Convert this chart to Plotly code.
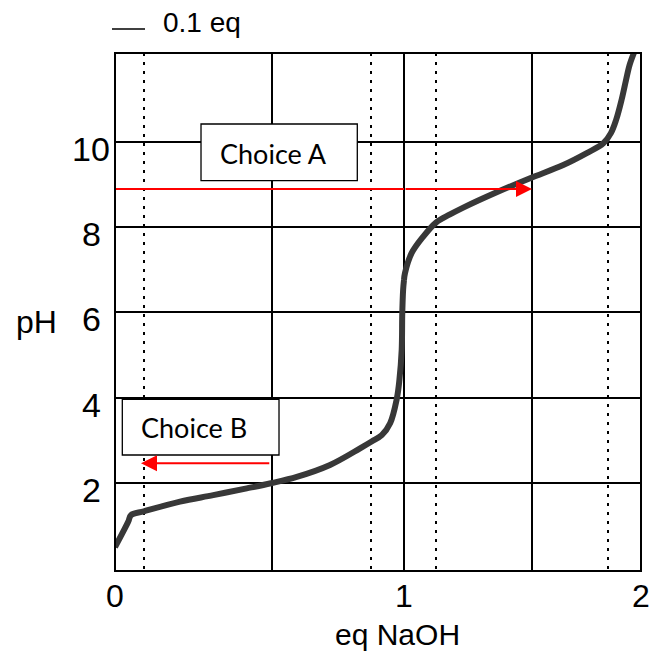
import plotly.graph_objects as go

# ---- data ----
eq_naoh = [0.0, 0.046, 0.055, 0.100, 0.225, 0.340, 0.456, 0.539, 0.629, 0.744,
           0.848, 0.888, 0.923, 0.952, 0.975, 0.984, 0.992, 0.994, 0.997, 1.0,
           1.004, 1.032, 1.081, 1.135, 1.194, 1.250, 1.391, 1.532, 1.672,
           1.771, 1.841, 1.873, 1.895, 1.918, 1.937, 1.952, 1.970]
ph = [0.49, 1.09, 1.24, 1.33, 1.56, 1.71, 1.87, 1.99, 2.14, 2.42,
      2.81, 2.97, 3.12, 3.40, 3.97, 4.41, 5.12, 5.98, 6.53, 6.76,
      6.92, 7.39, 7.78, 8.11, 8.30, 8.46, 8.82, 9.15, 9.46,
      9.74, 9.97, 10.21, 10.52, 10.99, 11.46, 11.81, 12.09]

x_solid_grid = [0.543, 1.0, 1.54]
x_dotted_grid = [0.101, 0.886, 1.135, 1.862]
y_grid = [2, 4, 6, 8, 10]

x_tick_vals = [0, 1, 2]
x_tick_text = ["0", "1", "2"]
y_tick_vals = [2, 4, 6, 8, 10]
y_tick_text = ["2", "4", "6", "8", "10"]

choice_labels = ["Choice A", "Choice B"]
arrow_a_eq = [0.0, 1.54]
arrow_a_ph = 8.90
arrow_b_eq = [0.539, 0.090]
arrow_b_ph = 2.46

scale_label = "0.1 eq"
x_title = "eq NaOH"
y_title = "pH"

# ---- figure ----
W, H = 665, 655
ML, MR, MT, MB = 115, 24, 53, 84
PW = W - ML - MR
PH_ = H - MT - MB
PX_EQ1 = 289  # the schematic x axis is drawn piecewise: eq 0..1 and eq 1..2 have different widths

X1_RANGE = [0, PW / PX_EQ1]                       # scale used for eq <= 1
X2_RANGE = [1 - PX_EQ1 / (PW - PX_EQ1), 2]        # scale used for eq >= 1

FONT = "Liberation Sans, Arial, sans-serif"
CURVE = "#383838"

fig = go.Figure()

lo = [(x, y) for x, y in zip(eq_naoh, ph) if x <= 1.0]
hi = [(x, y) for x, y in zip(eq_naoh, ph) if x >= 1.0]
fig.add_trace(go.Scatter(x=[p[0] for p in lo], y=[p[1] for p in lo], mode="lines",
                         line=dict(color=CURVE, width=6, shape="spline", smoothing=1.0),
                         xaxis="x", yaxis="y", hoverinfo="skip"))
fig.add_trace(go.Scatter(x=[p[0] for p in hi], y=[p[1] for p in hi], mode="lines",
                         line=dict(color=CURVE, width=6, shape="spline", smoothing=1.0),
                         xaxis="x2", yaxis="y", hoverinfo="skip"))

# arrow A shaft on the first piece (0 -> 1)
fig.add_trace(go.Scatter(x=[arrow_a_eq[0], 1.0], y=[arrow_a_ph, arrow_a_ph], mode="lines",
                         line=dict(color="red", width=2), xaxis="x", yaxis="y",
                         hoverinfo="skip"))

grid_common = dict(showgrid=True, gridcolor="black", gridwidth=2, showticklabels=False,
                   ticks="", zeroline=False, showline=False, tickmode="array")
dotted = dict(showgrid=True, gridcolor="black", gridwidth=2, griddash="3px,6px",
              ticks="", tickmode="array")

fig.update_layout(
    width=W, height=H,
    margin=dict(l=ML, r=MR, t=MT, b=MB),
    paper_bgcolor="white", plot_bgcolor="white",
    showlegend=False,
    xaxis=dict(domain=[0, 1], range=X1_RANGE, anchor="y",
               tickvals=[v for v in x_solid_grid if v <= 1],
               minor=dict(tickvals=[v for v in x_dotted_grid if v <= 1], **dotted),
               **grid_common),
    xaxis2=dict(domain=[0, 1], range=X2_RANGE, anchor="y", overlaying="x",
                tickvals=[v for v in x_solid_grid if v > 1],
                minor=dict(tickvals=[v for v in x_dotted_grid if v > 1], **dotted),
                **grid_common),
    yaxis=dict(range=[-0.07, 12.09], anchor="x", tickvals=y_grid, **grid_common),
)

# plot border
fig.add_shape(type="rect", xref="paper", yref="paper", x0=0, x1=1, y0=0, y1=1,
              line=dict(color="black", width=2), layer="above")

# choice boxes (white, covering the grid)
fig.add_shape(type="rect", xref="x", yref="y", x0=0.2976, x1=0.8384, y0=9.092, y1=10.423,
              line=dict(color="black", width=1.3), fillcolor="white", layer="above")
fig.add_shape(type="rect", xref="x", yref="y", x0=0.0253, x1=0.5675, y0=2.653, y1=3.961,
              line=dict(color="black", width=1.3), fillcolor="white", layer="above")

ann = []
# y tick labels
for v, t in zip(y_tick_vals, y_tick_text):
    ann.append(dict(text=t, xref="paper", x=0, xshift=-24, xanchor="center",
                    yref="y", y=v, yshift=-7, yanchor="middle", showarrow=False,
                    font=dict(family=FONT, size=34, color="black")))
# x tick labels
for v, t in zip(x_tick_vals, x_tick_text):
    ann.append(dict(text=t, xref="x" if v <= 1 else "x2", x=v, xanchor="center",
                    yref="paper", y=0, yshift=-25, yanchor="middle", showarrow=False,
                    font=dict(family=FONT, size=32, color="black")))
# axis titles
ann.append(dict(text=x_title, xref="paper", x=(397 - ML) / PW, yref="paper", y=-63 / PH_,
                xanchor="center", yanchor="middle", showarrow=False,
                font=dict(family=FONT, size=30, color="black")))
ann.append(dict(text=y_title, xref="paper", x=(36 - ML) / PW, yref="paper", y=249 / PH_,
                xanchor="center", yanchor="middle", showarrow=False,
                font=dict(family=FONT, size=32, color="black")))
# scale label
ann.append(dict(text=scale_label, xref="paper", x=(161 - ML) / PW, yref="paper",
                y=(571 - 23) / PH_, xanchor="left", yanchor="middle", showarrow=False,
                font=dict(family=FONT, size=28, color="black")))

# choice texts
box_font = dict(family="Lato, Noto Sans, sans-serif", size=27, color="black")
ann.append(dict(text=choice_labels[0], xref="x", x=0.5467, yref="y", y=9.72,
                showarrow=False, font=box_font, xanchor="center", yanchor="middle"))
ann.append(dict(text=choice_labels[1], xref="x", x=0.2734, yref="y", y=3.29,
                showarrow=False, font=box_font, xanchor="center", yanchor="middle"))

# arrows
ann.append(dict(text="", xref="x2", x=arrow_a_eq[1], yref="y", y=arrow_a_ph,
                axref="x2", ax=1.0, ayref="y", ay=arrow_a_ph, showarrow=True,
                arrowhead=2, arrowsize=1.6, arrowwidth=2, arrowcolor="red", standoff=0))
ann.append(dict(text="", xref="x", x=arrow_b_eq[1], yref="y", y=arrow_b_ph,
                axref="x", ax=arrow_b_eq[0], ayref="y", ay=arrow_b_ph, showarrow=True,
                arrowhead=2, arrowsize=1.6, arrowwidth=2, arrowcolor="red", standoff=0))

fig.update_layout(annotations=ann)

# scale-bar dash next to the "0.1 eq" label
fig.add_shape(type="line", xref="paper", yref="paper",
              x0=(112 - ML) / PW, x1=(145 - ML) / PW,
              y0=(571 - 29) / PH_, y1=(571 - 29) / PH_,
              line=dict(color="black", width=1.5))

fig.write_html("out.html", config={"displayModeBar": False},
               post_script="document.body.style.margin='0';")
